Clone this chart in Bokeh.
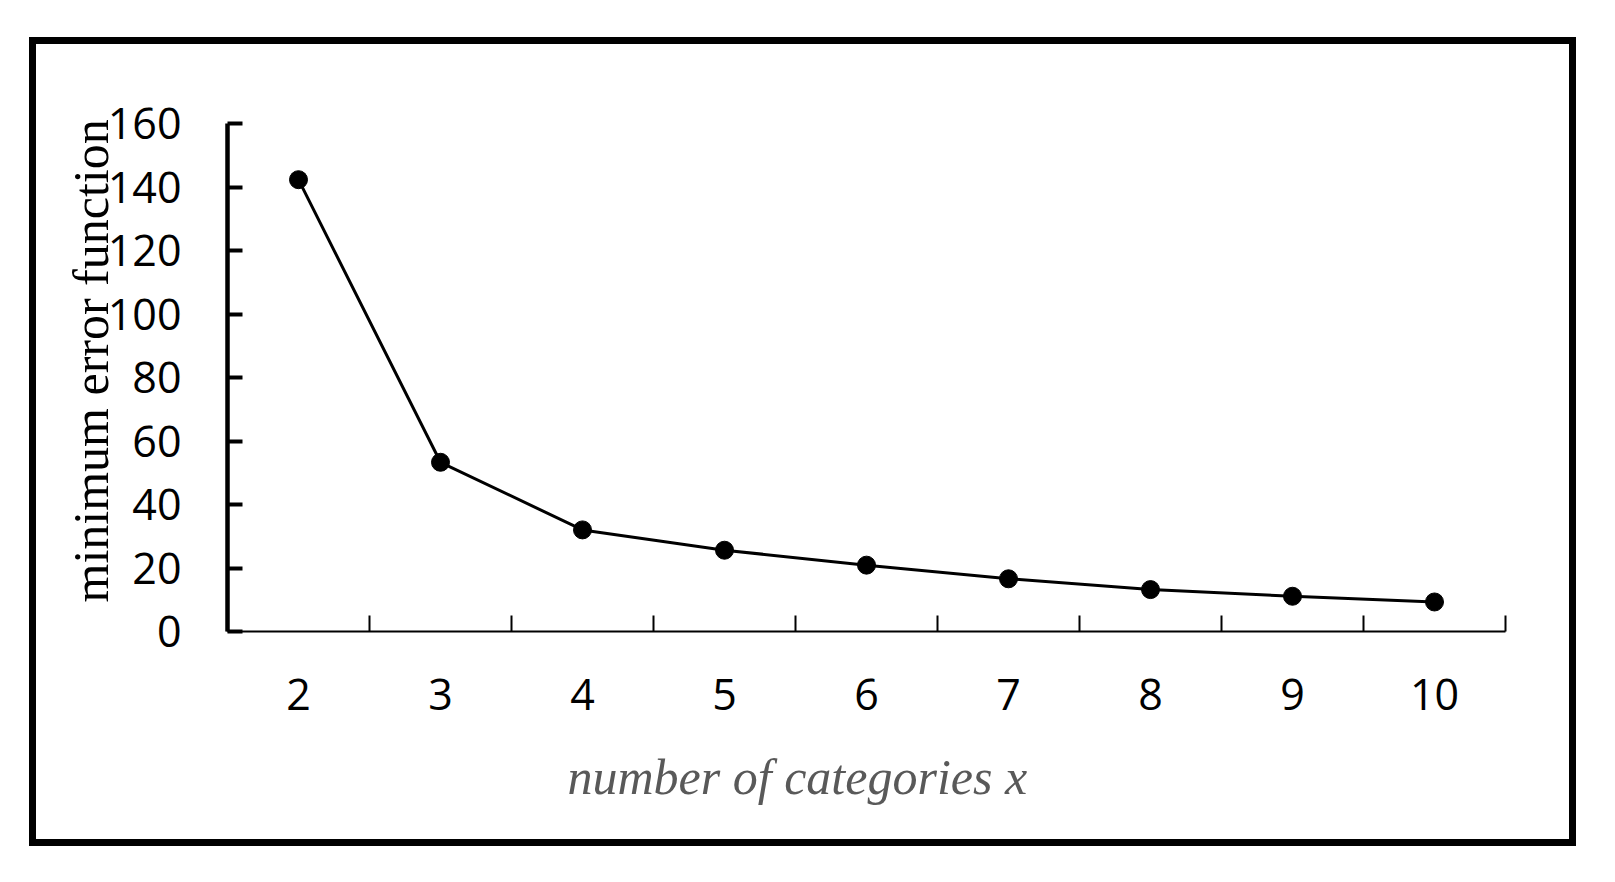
from bokeh.plotting import figure
from bokeh.models import Range1d, FixedTicker, Title
from bokeh.embed import file_html
from bokeh.resources import INLINE

# ---- data ----
categories = [2, 3, 4, 5, 6, 7, 8, 9, 10]
error_values = [142.3, 53.3, 32.0, 25.6, 20.9, 16.6, 13.2, 11.1, 9.3]
y_ticks = [0, 20, 40, 60, 80, 100, 120, 140, 160]
x_label = "number of categories x"
y_label = "minimum error function"

boundaries = [c - 0.5 for c in categories] + [categories[-1] + 0.5]

p = figure(
    width=1547, height=809,
    output_backend="svg", toolbar_location=None,
    x_range=Range1d(boundaries[0], boundaries[-1]),
    y_range=Range1d(y_ticks[0], y_ticks[-1]),
    min_border_left=191, min_border_right=78,
    min_border_top=79, min_border_bottom=222,
)
p.styles = {"border": "7px solid black", "margin-left": "29px", "margin-top": "37px"}
p.outline_line_color = None
p.xgrid.visible = False
p.ygrid.visible = False
p.background_fill_color = "white"
p.border_fill_color = "white"

# y axis
ya = p.yaxis[0]
ya.ticker = FixedTicker(ticks=y_ticks)
ya.axis_line_width = 4.5
ya.axis_line_color = "black"
ya.major_tick_in = 15
ya.major_tick_out = 0
ya.major_tick_line_width = 4
ya.major_tick_line_color = "black"
ya.minor_tick_line_color = None
ya.major_label_text_font = "Open Sans"
ya.major_label_text_font_size = "43px"
ya.major_label_text_color = "black"
ya.major_label_standoff = 46

# x axis
xa = p.xaxis[0]
xa.ticker = FixedTicker(ticks=categories, minor_ticks=boundaries)
xa.axis_line_width = 2
xa.axis_line_color = "black"
xa.major_tick_in = 0
xa.major_tick_out = 0
xa.minor_tick_in = 16
xa.minor_tick_out = 0
xa.minor_tick_line_width = 2
xa.minor_tick_line_color = "black"
xa.major_label_text_font = "Open Sans"
xa.major_label_text_font_size = "43px"
xa.major_label_text_color = "black"
xa.major_label_standoff = 47

p.add_layout(Title(text=x_label, align="left", offset=340,
                   text_font="Liberation Serif", text_font_size="50px",
                   text_font_style="italic", text_color="#595959",
                   standoff=68), "below")

p.add_layout(Title(text=y_label, align="left", offset=29,
                   text_font="Liberation Serif", text_font_size="50px",
                   text_font_style="normal", text_color="black",
                   standoff=-28), "left")

p.line(categories, error_values, line_color="black", line_width=3)
p.scatter(categories, error_values, size=18, fill_color="black", line_color="black")

open("out.html", "w").write(file_html(p, INLINE))
